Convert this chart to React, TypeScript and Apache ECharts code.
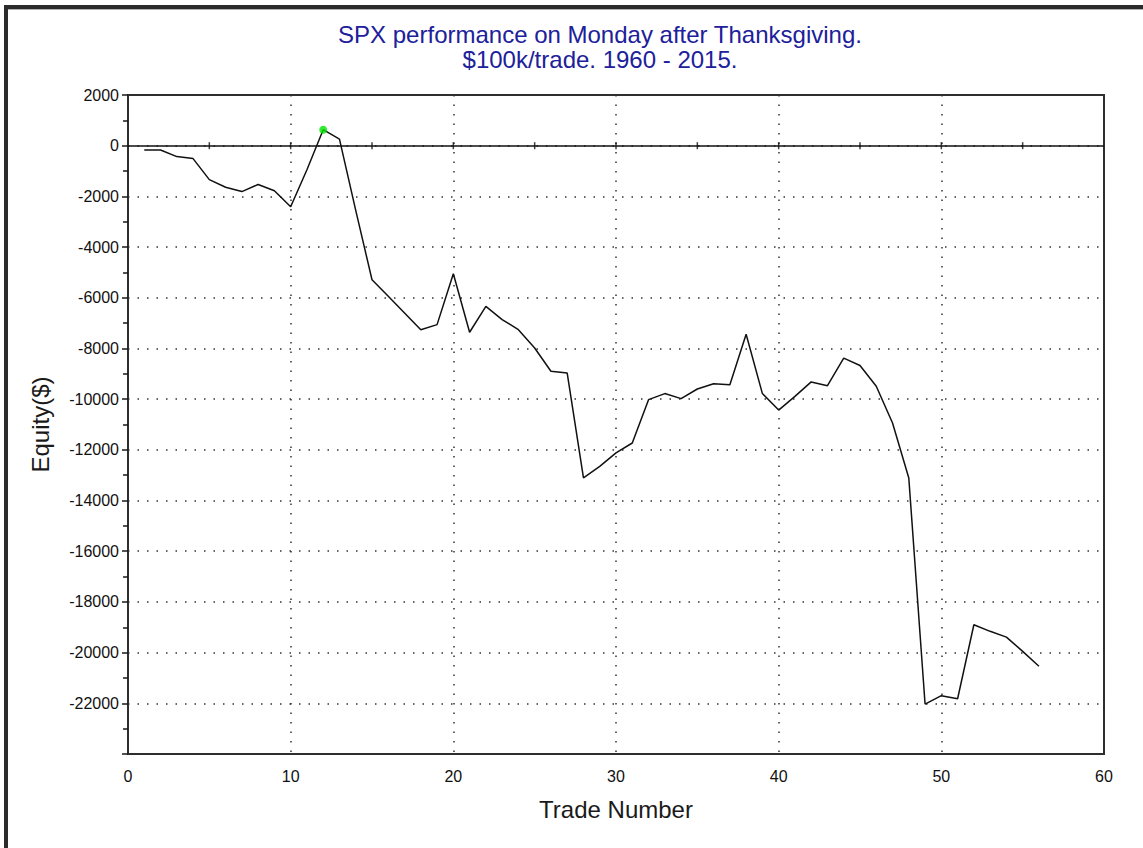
import React, { useEffect, useRef } from "react";
import * as echarts from "echarts";

const titleLines = ["SPX performance on Monday after Thanksgiving.", "$100k/trade. 1960 - 2015."];
const xAxisName = "Trade Number";
const yAxisName = "Equity($)";

const tradeNumbers = [
  1, 2, 3, 4, 5, 6, 7, 8, 9, 10, 11, 12, 13, 14, 15, 16, 17, 18, 19, 20,
  21, 22, 23, 24, 25, 26, 27, 28, 29, 30, 31, 32, 33, 34, 35, 36, 37, 38, 39, 40,
  41, 42, 43, 44, 45, 46, 47, 48, 49, 50, 51, 52, 53, 54, 55, 56,
];
const equity = [
  -170, -170, -430, -510, -1340, -1640, -1810, -1530, -1780, -2410,
  -950, 630, 260, -2550, -5290, -5940, -6600, -7260, -7060, -5050,
  -7360, -6340, -6860, -7260, -7980, -8900, -8970, -13110, -12650, -12120,
  -11730, -10020, -9780, -9980, -9600, -9390, -9430, -7440, -9780, -10430,
  -9890, -9320, -9470, -8380, -8670, -9490, -10940, -13110, -22030, -21700,
  -21820, -18900, -19160, -19390, -19950, -20540,
];
const peakTrade = [12];
const peakEquity = [630];
const zeroLineTicks = [5, 10, 15, 20, 25, 30, 35, 40, 45, 50, 55];

const FONT = "'Liberation Sans', Arial, sans-serif";

export default function App() {
  const ref = useRef<HTMLDivElement>(null);
  useEffect(() => {
    if (!ref.current) return;
    const chart = echarts.init(ref.current, null, { renderer: "svg" });
    const lineData = tradeNumbers.map((t, i) => [t, equity[i]]);
    const peakData = peakTrade.map((t, i) => [t, peakEquity[i]]);
    const tickData = zeroLineTicks.map((t) => [t, 0]);
    chart.setOption({
      animation: false,
      backgroundColor: "#ffffff",
      textStyle: { fontFamily: FONT },
      title: {
        text: titleLines.join("\n"),
        left: 595,
        textAlign: "center",
        top: 17,
        textStyle: {
          color: "#20209a",
          fontSize: 24,
          fontWeight: "normal",
          fontFamily: FONT,
          lineHeight: 25,
        },
      },
      graphic: [
        { type: "rect", shape: { x: 4, y: 5, width: 4, height: 843 }, style: { fill: "#2b2b2b" }, silent: true },
        { type: "rect", shape: { x: 4, y: 5, width: 1139, height: 4 }, style: { fill: "#2b2b2b" }, silent: true },
        { type: "rect", shape: { x: 8, y: 9, width: 1135, height: 1 }, style: { fill: "#b0b0b0" }, silent: true },
      ],
      grid: {
        left: 128,
        top: 95,
        width: 976,
        height: 659,
        containLabel: false,
        outerBoundsMode: "none",
        show: true,
        borderColor: "#2e2e2e",
        borderWidth: 2,
        backgroundColor: "transparent",
      },
      xAxis: {
        type: "value",
        min: 0,
        max: 60,
        interval: 10,
        name: xAxisName,
        nameLocation: "middle",
        nameGap: 43,
        nameTextStyle: { color: "#1a1a1a", fontSize: 24, fontFamily: FONT },
        axisLine: { show: true, onZero: false, lineStyle: { color: "#2e2e2e", width: 2 } },
        axisTick: { show: false },
        axisLabel: { color: "#111111", fontSize: 16, margin: 14, fontFamily: FONT },
        splitLine: {
          show: true,
          lineStyle: { color: "#333333", type: [1.5, 8], width: 1.5 },
        },
      },
      yAxis: {
        type: "value",
        min: -24000,
        max: 2000,
        interval: 2000,
        name: yAxisName,
        nameLocation: "middle",
        nameGap: 76,
        nameTextStyle: { color: "#1a1a1a", fontSize: 24, fontFamily: FONT },
        axisLine: { show: true, lineStyle: { color: "#2e2e2e", width: 2 } },
        axisTick: { show: true, length: 6, lineStyle: { color: "#1a1a1a", width: 1.5 } },
        minorTick: { show: true, splitNumber: 2, length: 5, lineStyle: { color: "#1a1a1a", width: 1.5 } },
        axisLabel: {
          color: "#111111",
          fontSize: 16,
          margin: 9,
          fontFamily: FONT,
          formatter: (v: number) => (v === -24000 ? "" : String(v)),
        },
        splitLine: {
          show: true,
          lineStyle: { color: "#333333", type: [1.5, 8], width: 1.5 },
        },
      },
      series: [
        {
          type: "line",
          data: lineData,
          showSymbol: false,
          symbol: "none",
          lineStyle: { color: "#111111", width: 1.5 },
          z: 5,
          markLine: {
            silent: true,
            symbol: "none",
            label: { show: false },
            lineStyle: { color: "#111111", width: 1.5, type: "solid" },
            data: [{ yAxis: 0 }],
          },
        },
        {
          type: "scatter",
          data: tickData,
          symbol: "rect",
          symbolSize: [1.5, 7],
          itemStyle: { color: "#111111" },
          z: 4,
        },
        {
          type: "scatter",
          data: peakData,
          symbol: "circle",
          symbolSize: 8,
          itemStyle: { color: "#00e600" },
          z: 6,
        },
      ],
    });
    return () => chart.dispose();
  }, []);
  return (
    <div
      ref={ref}
      style={{ position: "fixed", left: 0, top: 0, width: 1143, height: 848, background: "#fff" }}
    />
  );
}
